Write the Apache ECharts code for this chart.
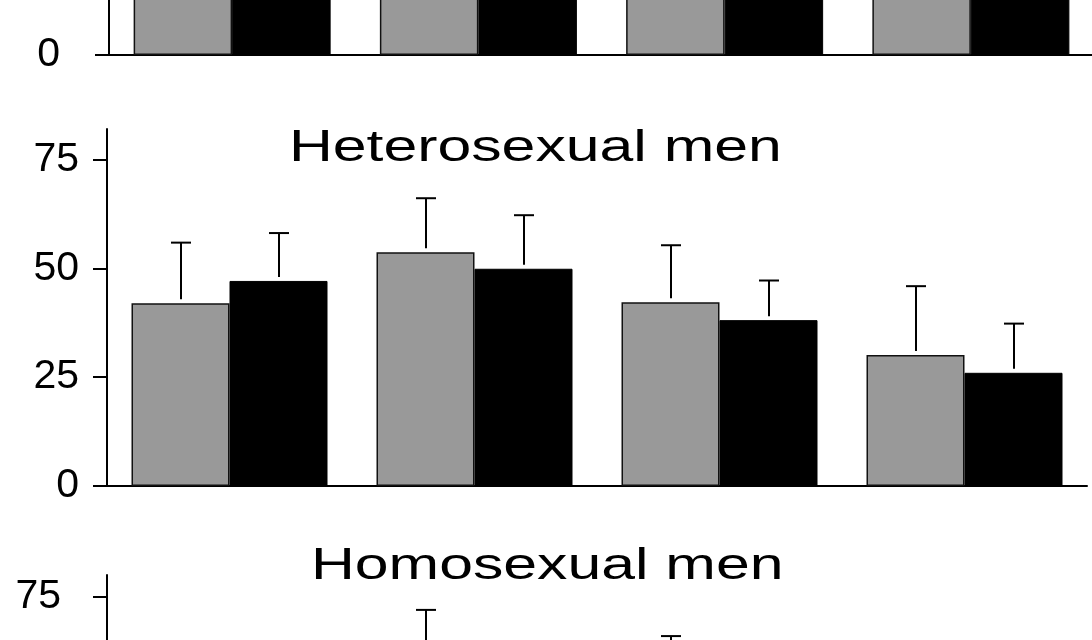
<!DOCTYPE html>
<html>
<head>
<meta charset="utf-8">
<script src="https://cdn.jsdelivr.net/npm/echarts@6/dist/echarts.min.js"></script>
<style>
  html, body { margin: 0; padding: 0; background: #fff; }
  #chart { width: 1092px; height: 640px; }
</style>
</head>
<body>
<div id="chart"></div>
<script>
// categories (no labels shown in the figure)
const categories = ['1', '2', '3', '4'];
const yTicks = [0, 25, 50, 75];

// top panel (bars run out of the frame, values estimated)
const topGray = [48, 52, 46, 44];
const topGrayErr = [12, 13, 12, 14];
const topBlack = [50, 49, 45, 41];
const topBlackErr = [11, 12, 10, 12];

// Heterosexual men
const heteroGray = [42, 53.7, 42.2, 30.1];
const heteroGrayErr = [13.9, 12.4, 13.1, 15.8];
const heteroBlack = [47.1, 49.9, 38.1, 26.0];
const heteroBlackErr = [11.0, 12.3, 9.1, 11.3];

// Homosexual men (only the top of two error bars is visible)
const homoGray = [40, 56, 50, 34];
const homoGrayErr = [12, 16, 16, 14];
const homoBlack = [44, 52, 46, 30];
const homoBlackErr = [12, 10, 10, 12];

const font = 'Liberation Sans, Arial, Helvetica, sans-serif';

const panels = [
    { grid: { left: 109, right: -2, top: -294, height: 349 }, max: 80, labelMargin: 49,
      gray: topGray, grayErr: topGrayErr, black: topBlack, blackErr: topBlackErr },
    { grid: { left: 107, right: 5, top: 129, height: 357 }, max: 82, labelMargin: 28,
      gray: heteroGray, grayErr: heteroGrayErr, black: heteroBlack, blackErr: heteroBlackErr },
    { grid: { left: 107, right: 5, top: 575, height: 349 }, max: 80, labelMargin: 46,
      gray: homoGray, grayErr: homoGrayErr, black: homoBlack, blackErr: homoBlackErr }
];

// error bar: line from bar top up to mean+err with a small cap
function errorBar(shift) {
    return function (params, api) {
        const base = api.coord([api.value(0), api.value(1)]);
        const top = api.coord([api.value(0), api.value(1) + api.value(2)]);
        const band = api.size([1, 0])[0];
        const cx = Math.round(base[0] + shift * band);
        const style = { stroke: '#000', lineWidth: 2 };
        return {
            type: 'group',
            children: [
                { type: 'line', shape: { x1: cx, y1: base[1] - 4, x2: cx, y2: top[1] }, style: style },
                { type: 'line', shape: { x1: cx - 10, y1: top[1], x2: cx + 10, y2: top[1] }, style: style }
            ]
        };
    };
}

const grid = [], xAxis = [], yAxis = [], series = [];
panels.forEach((p, i) => {
    grid.push(Object.assign({ outerBoundsMode: 'none', containLabel: false }, p.grid));
    xAxis.push({
        type: 'category', gridIndex: i, data: categories,
        axisLine: { lineStyle: { color: '#000', width: 2 } },
        axisTick: { show: false }, axisLabel: { show: false }
    });
    yAxis.push({
        type: 'value', gridIndex: i, min: 0, max: p.max, interval: 25,
        axisLine: { show: true, lineStyle: { color: '#000', width: 2 } },
        axisTick: { show: true, length: 14, customValues: yTicks, lineStyle: { color: '#000', width: 2 } },
        axisLabel: { customValues: yTicks, fontSize: 41, fontFamily: font, color: '#000', margin: p.labelMargin },
        splitLine: { show: false }
    });
    series.push({
        type: 'bar', xAxisIndex: i, yAxisIndex: i, data: p.gray,
        barGap: '0%', barCategoryGap: '20%',
        itemStyle: { color: '#999999', borderColor: '#111', borderWidth: 1.5 }
    });
    series.push({
        type: 'bar', xAxisIndex: i, yAxisIndex: i, data: p.black,
        barGap: '0%', barCategoryGap: '20%',
        itemStyle: { color: '#000', borderColor: '#000', borderWidth: 1 }
    });
    series.push({
        type: 'custom', xAxisIndex: i, yAxisIndex: i, z: 5, clip: false,
        renderItem: errorBar(-0.2),
        data: p.gray.map((v, k) => [k, v, p.grayErr[k]])
    });
    series.push({
        type: 'custom', xAxisIndex: i, yAxisIndex: i, z: 5, clip: false,
        renderItem: errorBar(0.2),
        data: p.black.map((v, k) => [k, v, p.blackErr[k]])
    });
});

const titleStyle = { fontSize: 44, fontFamily: font, fill: '#000', verticalAlign: 'middle' };

const chart = echarts.init(document.getElementById('chart'), null, { renderer: 'canvas' });
chart.setOption({
    animation: false,
    backgroundColor: '#fff',
    grid: grid,
    xAxis: xAxis,
    yAxis: yAxis,
    series: series,
    graphic: [
        { type: 'text', x: 289, y: 149, scaleX: 1.38, style: Object.assign({ text: 'Heterosexual men' }, titleStyle) },
        { type: 'text', x: 311, y: 567, scaleX: 1.38, style: Object.assign({ text: 'Homosexual men' }, titleStyle) }
    ]
});
</script>
</body>
</html>
